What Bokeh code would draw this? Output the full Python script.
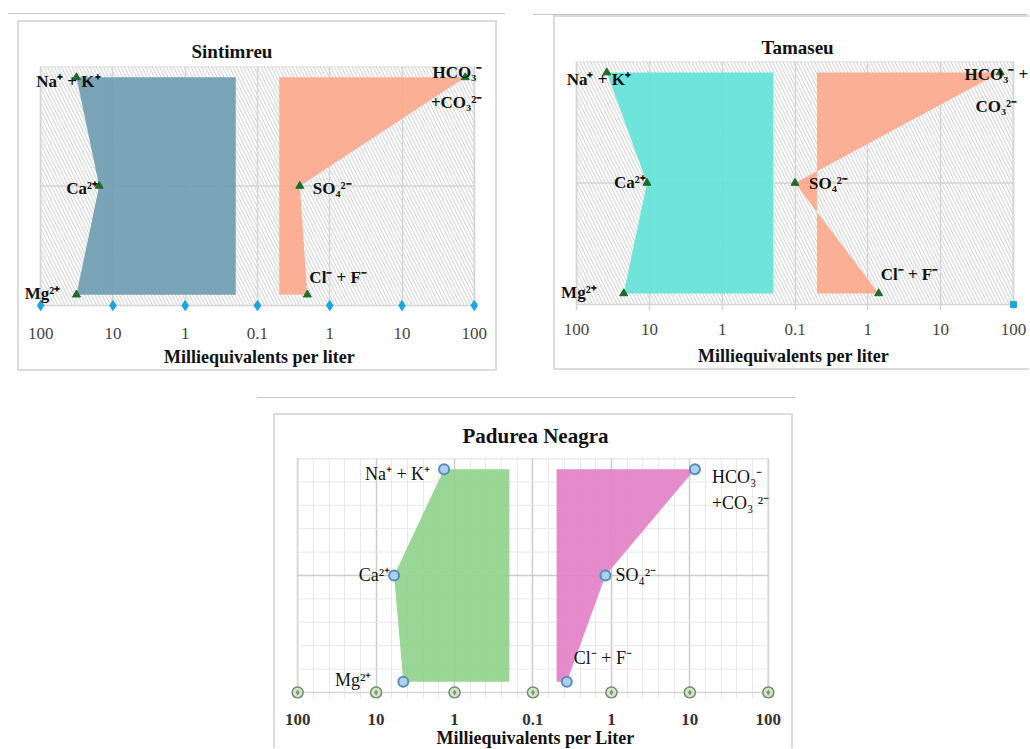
import numpy as np
from bokeh.plotting import figure
from bokeh.models import Range1d, FixedTicker, ColumnDataSource, Div
from bokeh.layouts import column, row
from bokeh.embed import file_html
from bokeh.resources import INLINE
from bokeh.core.properties import value

# ---------------- data ----------------
tick_labels = ["100", "10", "1", "0.1", "1", "10", "100"]
cation_names = ["Na⁺ + K⁺", "Ca²⁺", "Mg²⁺"]
anion_names_sint = ["HCO₃⁻\n+CO₃²⁻", "SO₄²⁻", "Cl⁻ + F⁻"]
anion_names_tama = ["HCO₃⁻ +\nCO₃²⁻", "SO₄²⁻", "Cl⁻ + F⁻"]
anion_names_pad = ["HCO₃⁻\n+CO₃ ²⁻", "SO₄²⁻", "Cl⁻ + F⁻"]
row_levels = [21, 11, 1]          # Na+K / HCO3 row, Ca / SO4 row, Mg / Cl row

sint_cations = [32.0, 15.5, 32.0]   # meq/L
sint_anions = [75.0, 0.385, 0.49]
tama_cations = [38.5, 10.8, 22.5]
tama_anions = [66.0, 0.10, 1.41]
pad_cations = [1.36, 5.9, 4.5]
pad_anions = [11.6, 0.84, 0.27]
inner_value = 0.2                   # inner edge of the Stiff polygons (meq/L)

SERIF = "Liberation Serif"
U_MIN, U_MAX = 0, 6       # six log decades: 100..0.1 | 0.1..100
Y_MIN, Y_MAX = 0, 22


def cat_u(v):
    return 2 - np.log10(np.asarray(v, dtype=float))


def an_u(v):
    return 4 + np.log10(np.asarray(v, dtype=float))


def make_panel(title, cations, anions, anion_names, cfg):
    W, H = cfg["size"]
    px0, px1, py0, py1 = cfg["plot_px"]
    ppu_x = (px1 - px0) / (U_MAX - U_MIN)
    ppu_y = (py1 - py0) / (Y_MAX - Y_MIN)
    pad_px = 6
    p = figure(width=W, height=H, output_backend="svg", toolbar_location=None,
               x_range=Range1d(U_MIN - px0 / ppu_x, U_MAX + (W - px1) / ppu_x),
               y_range=Range1d(Y_MIN - pad_px / ppu_y, Y_MAX),
               y_axis_location=None, min_border_left=0, min_border_right=0,
               min_border_top=py0, min_border_bottom=H - py1 - pad_px,
               background_fill_color="white", border_fill_color="white",
               outline_line_color=None)
    p.margin = cfg["margin"]
    p.styles = cfg["css"]
    p.title.text = title
    p.title.align = cfg["title_align"]
    p.title.offset = cfg["title_offset"]
    p.title.vertical_align = cfg["title_valign"]
    p.title.text_font = SERIF
    p.title.text_font_size = cfg["title_size"]
    p.title.text_font_style = "bold"
    p.title.text_color = "#111111"
    p.title.standoff = cfg["title_standoff"]

    ax = p.xaxis[0]
    ax.ticker = FixedTicker(ticks=list(range(len(tick_labels))))
    ax.major_label_overrides = {i: t for i, t in enumerate(tick_labels)}
    ax.major_label_text_font = SERIF
    ax.major_label_text_font_size = "17px"
    ax.major_label_text_color = cfg["tick_color"]
    ax.major_label_text_font_style = cfg["tick_style"]
    ax.major_label_standoff = cfg["label_standoff"]
    ax.major_tick_line_color = None
    ax.minor_tick_line_color = None
    ax.axis_line_color = None
    ax.axis_label = cfg["xlabel"]
    ax.axis_label_text_font = SERIF
    ax.axis_label_text_font_size = "18px"
    ax.axis_label_text_font_style = "bold"
    ax.axis_label_text_color = "#111111"
    ax.axis_label_standoff = cfg["axis_label_standoff"]

    # vertical grid (spans the frame height = plot area)
    if cfg["minor_grid"]:
        p.xgrid.ticker = FixedTicker(ticks=list(range(7)),
                                     minor_ticks=[i * 0.2 for i in range(31)])
        p.xgrid.minor_grid_line_color = "#e8e8e8"
        p.xgrid.minor_grid_line_width = 1
    else:
        p.xgrid.ticker = FixedTicker(ticks=list(range(7)))
    p.xgrid.grid_line_color = cfg["grid_color"]
    p.xgrid.grid_line_width = 1.5
    p.ygrid.visible = False

    # plot area (hatched background + border)
    p.quad(left=U_MIN, right=U_MAX, bottom=Y_MIN, top=Y_MAX, fill_color=None,
           line_color="#d6d6d6", line_width=1.5,
           hatch_pattern="\\" if cfg["hatch"] else None,
           hatch_color="#d6d6d6", hatch_scale=7, hatch_weight=1.1)

    # horizontal grid lines limited to the plot area
    if cfg["minor_grid"]:
        mins = [i * 2.2 for i in range(1, 10)]
        p.segment(x0=U_MIN, x1=U_MAX, y0=mins, y1=mins, line_color="#e8e8e8", line_width=1)
    p.segment(x0=U_MIN, x1=U_MAX, y0=[row_levels[1]], y1=[row_levels[1]],
              line_color=cfg["grid_color"], line_width=1.5)

    cu = cat_u(cations)
    au = an_u(anions)
    ci = float(cat_u(inner_value))
    ai = float(an_u(inner_value))
    ys = [row_levels[0]] + row_levels + [row_levels[-1]]
    p.patch([ci] + list(cu) + [ci], ys, fill_color=cfg["cat_color"],
            fill_alpha=0.9, line_color=None)
    p.patch([ai] + list(au) + [ai], ys, fill_color=cfg["an_color"],
            fill_alpha=0.9, line_color=None)

    # axis markers
    am = cfg["axis_marks"]
    xs = list(am["idx"])
    p.scatter(xs, [Y_MIN] * len(xs), marker=am["marker"], size=am["size"],
              fill_color=am["fill"], line_color=am["line"], line_width=am["lw"])
    if "inner" in am:
        p.scatter(xs, [Y_MIN] * len(xs), marker="diamond", size=6,
                  fill_color=am["inner"], line_color=None)

    # data markers
    mk = cfg["marker"]
    p.scatter(list(cu) + list(au), row_levels + row_levels, marker=mk["marker"],
              size=mk["size"], fill_color=mk["fill"], line_color=mk["line"],
              line_width=mk["lw"])

    # labels
    lab = cfg["labels"]
    src = ColumnDataSource(dict(
        x=list(cu) + list(au), y=row_levels + row_levels,
        text=cation_names + anion_names,
        align=lab["align"], xo=lab["xo"], yo=lab["yo"]))
    p.text(x="x", y="y", text="text", source=src, x_offset="xo", y_offset="yo",
           text_align="align", text_baseline="middle",
           text_font=value(SERIF), text_font_size=lab["size"],
           text_font_style=lab["style"], text_color="#111111",
           text_line_height=lab["lh"])
    return p


BORDER = "2px solid #dcdcdc"

cfg1 = dict(size=(476, 347), plot_px=(21, 451, 40, 279), margin=(5, 0, 0, 17),
            css={"box-sizing": "content-box", "border": BORDER},
            title_align="left", title_offset=172, title_valign="bottom",
            title_size="19px", title_standoff=9,
            tick_color="#444444", tick_style="normal",
            label_standoff=10, axis_label_standoff=5,
            xlabel="Milliequivalents per liter", grid_color="#d4d4d4",
            minor_grid=False, hatch=True, cat_color="#6d9bb0", an_color="#fca98b",
            axis_marks=dict(idx=list(range(7)), marker="diamond", size=10,
                            fill="#1aa6dc", line="#1aa6dc", lw=1),
            marker=dict(marker="triangle", size=8, fill="#1d6b26", line="#1d6b26", lw=1),
            labels=dict(align=["center", "right", "right", "right", "left", "left"],
                        xo=[-8, -1, -16, 17, 13, 2], yo=[4, 2, -1, 10, 2, -17],
                        size="17px", style="bold", lh=1.6))

cfg2 = dict(size=(474, 351), plot_px=(21, 456, 44, 285), margin=(0, 0, 0, 56),
            css={"box-sizing": "content-box", "border-left": BORDER,
                 "border-top": BORDER, "border-bottom": BORDER},
            title_align="left", title_offset=206, title_valign="bottom",
            title_size="19px", title_standoff=7,
            tick_color="#444444", tick_style="normal",
            label_standoff=7, axis_label_standoff=8,
            xlabel="Milliequivalents per liter", grid_color="#d4d4d4",
            minor_grid=False, hatch=True, cat_color="#60e2d7", an_color="#fca98b",
            axis_marks=dict(idx=[6], marker="square", size=6,
                            fill="#1aa6dc", line="#1aa6dc", lw=1),
            marker=dict(marker="triangle", size=8, fill="#1d6b26", line="#1d6b26", lw=1),
            labels=dict(align=["center", "right", "right", "center", "left", "left"],
                        xo=[-8, -1, -27, -4, 14, 2], yo=[7, 0, -1, 18, 1, -19],
                        size="17px", style="bold", lh=1.65))

cfg3 = dict(size=(516, 333), plot_px=(22, 489, 42, 275), margin=(15, 0, 0, 273),
            css={"box-sizing": "content-box", "border-left": BORDER,
                 "border-top": BORDER, "border-right": BORDER},
            title_align="center", title_offset=0, title_valign="top",
            title_size="21px", title_standoff=17,
            tick_color="#333333", tick_style="bold",
            label_standoff=9, axis_label_standoff=0,
            xlabel="Milliequivalents per Liter", grid_color="#cccccc",
            minor_grid=True, hatch=False, cat_color="#8fd18b", an_color="#e27dc5",
            axis_marks=dict(idx=list(range(7)), marker="circle", size=11,
                            fill="#d5e2cf", line="#6e8f63", lw=1.5, inner="#7a9a70"),
            marker=dict(marker="circle", size=10, fill="#b3cfe8", line="#4f8fc2", lw=2),
            labels=dict(align=["right", "right", "right", "left", "left", "left"],
                        xo=[-14, -4, -32, 17, 10, 7], yo=[5, 0, -2, 21, 0, -24],
                        size="18px", style="normal", lh=1.3))

p1 = make_panel("Sintimreu", sint_cations, sint_anions, anion_names_sint, cfg1)
p2 = make_panel("Tamaseu", tama_cations, tama_anions, anion_names_tama, cfg2)
p3 = make_panel("Padurea Neagra", pad_cations, pad_anions, anion_names_pad, cfg3)


def rule(width, margin):
    return Div(text="", width=width, height=1, margin=margin,
               styles={"background-color": "#c4c4c4"})


layout = column(
    row(rule(497, (13, 0, 0, 8)), rule(494, (14, 0, 0, 28))),
    row(p1, p2),
    rule(538, (26, 0, 0, 257)),
    p3,
)
open("out.html", "w").write(file_html(layout, INLINE))
